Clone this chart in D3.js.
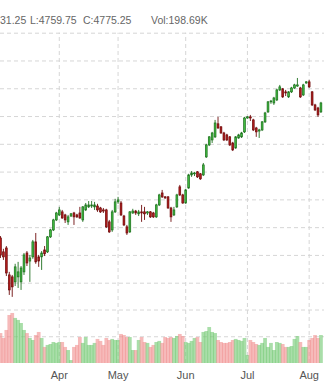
<!DOCTYPE html>
<html><head><meta charset="utf-8">
<script src="https://cdn.jsdelivr.net/npm/d3@7"></script>
<style>html,body{margin:0;padding:0;background:#fff;overflow:hidden}</style>
</head><body>
<svg id="c" width="324" height="384"></svg>
<script>
// ---- data ----
const monthLabels = ["Apr", "May", "Jun", "Jul", "Aug"];
const monthStartIdx = [20, 40, 63, 84, 105];
const priceTicks = [4000, 4100, 4200, 4300, 4400, 4500, 4600, 4700, 4800, 4900];
const volumeTicks = [200, 400];
const headerTexts = ["31.25", "L:4759.75", "C:4775.25", "Vol:198.69K"];

const open = [4161,4111,4125,4028,4021,4003,4021,4003,4039,4107,
  4078,4093,4147,4093,4093,4118,4111,4165,4190,4226,
  4244,4255,4244,4219,4240,4251,4244,4251,4226,4262,
  4273,4276,4273,4276,4269,4262,4262,4219,4190,4255,
  4291,4287,4240,4201,4183,4251,4258,4248,4255,4255,
  4251,4255,4251,4237,4280,4323,4309,4309,4269,4244,
  4273,4345,4316,4287,4341,4388,4392,4399,4392,4388,
  4453,4496,4514,4525,4572,4561,4539,4532,4525,4503,
  4485,4521,4525,4543,4593,4597,4586,4557,4546,4550,
  4579,4615,4651,4647,4658,4694,4698,4687,4669,4687,
  4701,4708,4701,4676,4719,4723,4687,4640,4629,4615];
const high = [4168,4122,4132,4039,4028,4068,4075,4060,4107,4114,
  4100,4154,4179,4100,4114,4132,4168,4194,4230,4255,
  4273,4262,4248,4244,4251,4255,4248,4273,4276,4287,
  4294,4294,4291,4284,4273,4269,4266,4226,4262,4302,
  4309,4294,4244,4208,4258,4266,4262,4262,4280,4273,
  4258,4258,4255,4284,4320,4334,4312,4312,4273,4273,
  4320,4352,4320,4338,4392,4402,4399,4402,4395,4431,
  4500,4528,4543,4586,4597,4564,4543,4536,4528,4507,
  4528,4536,4543,4597,4600,4604,4590,4561,4554,4582,
  4615,4654,4658,4669,4698,4712,4701,4694,4690,4705,
  4716,4737,4705,4716,4726,4730,4690,4644,4633,4651];
const low = [4089,4082,4024,3956,3949,3988,3981,3974,4028,4060,
  4003,4086,4068,4057,4046,4096,4107,4161,4186,4222,
  4240,4230,4215,4208,4237,4208,4233,4230,4219,4258,
  4269,4269,4262,4255,4251,4251,4197,4179,4183,4251,
  4284,4240,4204,4172,4179,4248,4244,4240,4219,4226,
  4244,4233,4233,4233,4276,4305,4302,4266,4219,4240,
  4269,4312,4284,4284,4338,4381,4384,4377,4370,4384,
  4449,4492,4503,4521,4554,4536,4510,4510,4492,4474,
  4482,4518,4521,4539,4590,4582,4546,4525,4521,4546,
  4575,4611,4644,4640,4654,4690,4665,4672,4665,4683,
  4698,4705,4665,4672,4716,4701,4636,4618,4597,4611];
const close = [4100,4093,4035,3974,3985,4057,4039,4053,4100,4071,
  4089,4147,4075,4078,4107,4104,4165,4190,4226,4251,
  4262,4233,4226,4237,4248,4237,4237,4233,4273,4280,
  4280,4280,4280,4262,4255,4258,4201,4183,4255,4291,
  4298,4244,4208,4179,4255,4258,4251,4255,4251,4248,
  4255,4237,4237,4280,4316,4309,4305,4269,4237,4262,
  4316,4316,4287,4334,4388,4395,4395,4381,4374,4424,
  4496,4525,4539,4575,4557,4539,4514,4514,4496,4478,
  4525,4532,4539,4593,4597,4593,4550,4543,4550,4579,
  4611,4651,4654,4665,4694,4705,4669,4683,4687,4701,
  4712,4712,4669,4712,4723,4705,4640,4622,4604,4647];
const volume = [224,187,247,359,374,337,322,299,247,224,
  187,172,209,232,187,120,135,142,157,150,
  157,157,120,97,22,120,135,194,150,194,
  135,135,150,180,165,135,187,172,180,172,
  172,217,209,194,194,97,97,172,194,157,
  150,120,135,157,165,150,194,187,194,187,
  202,217,202,157,150,165,187,194,157,232,
  239,269,232,224,172,157,150,150,157,172,
  180,172,165,187,60,172,157,142,135,150,
  187,120,150,97,157,150,142,120,120,127,
  180,202,157,120,120,172,187,209,187,209];

// ---- chart ----
const W = 324, H = 384;
const gridTop = 32.7, volBase = 363;
const svg = d3.select("#c");
svg.append("rect").attr("width", W).attr("height", H).attr("fill", "#fff");

const n = close.length;
const x = d3.scaleBand().domain(d3.range(n)).range([-1, 322.4]).padding(0);
const bw = x.bandwidth();
const y = d3.scaleLinear().domain([4000, 4900]).range([282.7, 32.7]);
const yv = d3.scaleLinear().domain([0, 400]).range([volBase, 309.5]);

const gridColor = "#d6d6d6", dash = "4,3";

// horizontal price grid
const gy = svg.append("g").call(d3.axisLeft(y).tickValues(priceTicks).tickSize(-W - 10).tickFormat(""));
gy.select(".domain").remove();
gy.selectAll("line").attr("stroke", gridColor).attr("stroke-dasharray", dash);

// horizontal volume grid
const gv = svg.append("g").call(d3.axisLeft(yv).tickValues(volumeTicks).tickSize(-W - 10).tickFormat(""));
gv.select(".domain").remove();
gv.selectAll("line").attr("stroke", gridColor).attr("stroke-dasharray", dash);

// vertical grid + month labels
const gx = svg.append("g").attr("transform", `translate(0,${volBase})`)
  .call(d3.axisBottom(x).tickValues(monthStartIdx)
    .tickFormat((d, i) => monthLabels[i])
    .tickSizeInner(-(volBase - gridTop)).tickSizeOuter(0).tickPadding(8));
gx.select(".domain").remove();
gx.selectAll("line").attr("stroke", gridColor).attr("stroke-dasharray", dash);
gx.selectAll("text").attr("fill", "#555").style("font", "11px 'Liberation Sans', Arial, sans-serif");

// volume bars
const idx = d3.range(n);
svg.append("g").selectAll("rect").data(idx).join("rect")
  .attr("x", i => x(i) - 0.4)
  .attr("width", bw + 0.8)
  .attr("y", i => yv(volume[i]))
  .attr("height", i => volBase - yv(volume[i]))
  .attr("fill", i => close[i] >= open[i] ? "#70c870" : "#f08c8c")
  .attr("fill-opacity", 0.6);

// candles
const upFill = "#3fba3f", upStroke = "#1f6f1f", dnFill = "#b21c1c", dnStroke = "#6e0c0c";
const cg = svg.append("g");
const c = cg.selectAll("g").data(idx).join("g");
c.append("line")
  .attr("x1", i => x(i) + bw / 2).attr("x2", i => x(i) + bw / 2)
  .attr("y1", i => y(high[i])).attr("y2", i => y(low[i]))
  .attr("stroke", i => close[i] >= open[i] ? upStroke : dnStroke)
  .attr("stroke-width", 0.9);
const bodyW = 1.8;
c.append("rect")
  .attr("x", i => x(i) + bw / 2 - bodyW / 2)
  .attr("width", bodyW)
  .attr("y", i => y(Math.max(open[i], close[i])))
  .attr("height", i => Math.max(0.8, Math.abs(y(open[i]) - y(close[i]))))
  .attr("fill", i => close[i] >= open[i] ? upFill : dnFill)
  .attr("stroke", i => close[i] >= open[i] ? upStroke : dnStroke)
  .attr("stroke-width", 0.7);

// header
const headerX = [0, 30, 83, 151];
svg.append("g").selectAll("text").data(headerTexts).join("text")
  .attr("x", (d, i) => headerX[i]).attr("y", 24)
  .attr("fill", "#666")
  .style("font", "10.5px 'Liberation Sans', Arial, sans-serif")
  .text(d => d);
</script>
</body></html>
